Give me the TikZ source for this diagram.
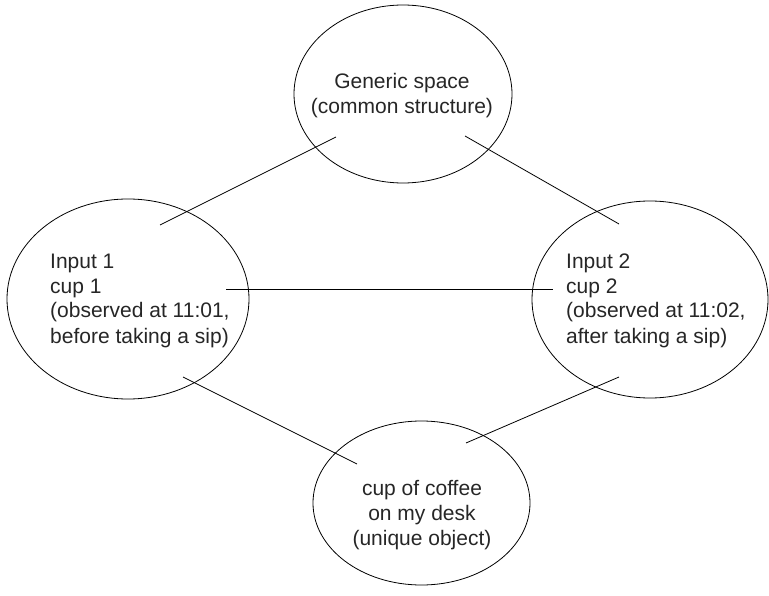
\documentclass[tikz,border=0pt]{standalone}
\usepackage{fontspec}
\setmainfont{Liberation Sans}
\usetikzlibrary{shapes.geometric}
\tikzset{
  ell/.style={draw, ellipse, line width=0.8pt, inner sep=0pt},
  lbl/.style={inner sep=0pt, font=\fontsize{21pt}{25pt}\selectfont, text=black!85},
  conn/.style={line width=0.8pt}
}
\begin{document}
\begin{tikzpicture}[x=1pt,y=-1pt]
\useasboundingbox (0,0) rectangle (769,596);
% ellipses
\node[ell, minimum width=218pt, minimum height=178pt] (gen) at (403,94) {};
\node[ell, minimum width=242pt, minimum height=200pt] (in1) at (128,299) {};
\node[ell, minimum width=236pt, minimum height=197pt] (in2) at (650,299.5) {};
\node[ell, minimum width=217pt, minimum height=164pt] (uni) at (421.5,503) {};
% labels (base anchor = baseline of last line)
\node[lbl, align=center, anchor=base] (genT) at (402,114) {Generic space\\(common structure)};
\node[lbl, align=left, anchor=base west] (in1T) at (50,343) {Input 1\\cup 1\\(observed at 11:01,\\before taking a sip)};
\node[lbl, align=left, anchor=base west] (in2T) at (566,343) {Input 2\\cup 2\\(observed at 11:02,\\after taking a sip)};
\node[lbl, align=center, anchor=base] (uniT) at (422,545) {cup of coffee\\on my desk\\(unique object)};
% connector end points
\coordinate (g1) at (336,137);
\coordinate (a1) at (160,225);
\coordinate (g2) at (465,136);
\coordinate (b1) at (619,224);
\coordinate (a2) at (226,289);
\coordinate (b2) at (553,289);
\coordinate (a3) at (183,377);
\coordinate (u1) at (357,464);
\coordinate (u2) at (466,443);
\coordinate (b3) at (619,377);
\draw[conn] (a1) -- (g1);
\draw[conn] (g2) -- (b1);
\draw[conn] (a2) -- (b2);
\draw[conn] (a3) -- (u1);
\draw[conn] (u2) -- (b3);
\end{tikzpicture}
\end{document}
